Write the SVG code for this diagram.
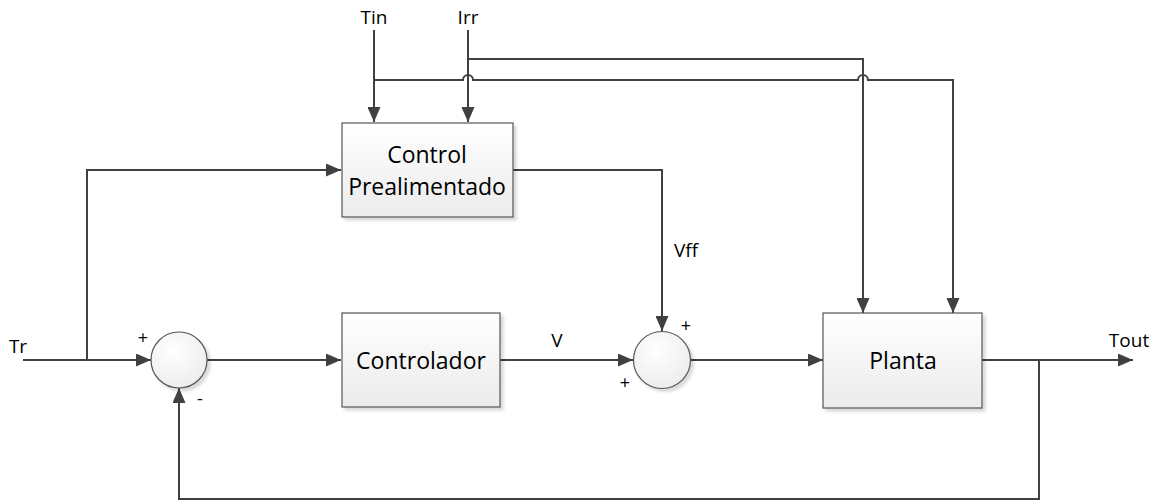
<svg xmlns="http://www.w3.org/2000/svg" width="1156" height="504" viewBox="0 0 1156 504">
<style>
.ln{fill:none;stroke:#404040;stroke-width:2}
.box{stroke:#555;stroke-width:1.2;fill:url(#gb);filter:url(#sh)}
.sum{stroke:#555;stroke-width:1.2;fill:url(#gc);filter:url(#sh)}
.t{font-family:"Open Sans","Liberation Sans",sans-serif;fill:#000;text-anchor:middle}
.bt{font-size:23px}
.lb{font-size:19px}
.sg{font-size:18px}
</style>
<defs>
<linearGradient id="gb" x1="0" y1="0" x2="0" y2="1"><stop offset="0" stop-color="#ffffff"/><stop offset="1" stop-color="#ebebeb"/></linearGradient>
<radialGradient id="gc" cx="0.4" cy="0.35" r="0.7"><stop offset="0" stop-color="#ffffff"/><stop offset="1" stop-color="#ececec"/></radialGradient>
<filter id="sh" x="-10%" y="-10%" width="130%" height="130%"><feDropShadow dx="3" dy="3" stdDeviation="1.5" flood-color="#000" flood-opacity="0.15"/></filter>
<marker id="ar" markerUnits="userSpaceOnUse" markerWidth="15" markerHeight="13" refX="15" refY="6.5" orient="auto"><path d="M0,0 L15,6.5 L0,13 z" fill="#404040"/></marker>
</defs>
<g id="connectors">
<path class="ln" d="M374,30 V122" marker-end="url(#ar)"/>
<path class="ln" d="M468,30 V122" marker-end="url(#ar)"/>
<path class="ln" d="M374,80 H463 a5,5 0 0 1 10,0 H858 a5,5 0 0 1 10,0 H953 V313" marker-end="url(#ar)"/>
<path class="ln" d="M468,59 H863 V313" marker-end="url(#ar)"/>
<path class="ln" d="M23,360 H151" marker-end="url(#ar)"/>
<path class="ln" d="M87,360 V170 H341" marker-end="url(#ar)"/>
<path class="ln" d="M207,360 H341" marker-end="url(#ar)"/>
<path class="ln" d="M500,360 H633" marker-end="url(#ar)"/>
<path class="ln" d="M513,170 H662 V331" marker-end="url(#ar)"/>
<path class="ln" d="M690,360 H823" marker-end="url(#ar)"/>
<path class="ln" d="M982,360 H1133" marker-end="url(#ar)"/>
<path class="ln" d="M1039,360 V499 H179 V388" marker-end="url(#ar)"/>
</g>
<g id="labels">
<text class="t lb" x="374" y="24">Tin</text>
<text class="t lb" x="468" y="24">Irr</text>
<text class="t lb" x="18" y="353">Tr</text>
<text class="t lb" x="1129" y="347">Tout</text>
<text class="t lb" x="557" y="347">V</text>
<text class="t lb" x="686" y="257">Vff</text>
</g>
<g id="ctrl-ff">
<rect class="box" x="342" y="123" width="171" height="94"/>
<text class="t bt" x="427" y="163">Control</text>
<text class="t bt" x="427" y="195">Prealimentado</text>
</g>
<g id="sum1">
<circle class="sum" cx="179" cy="360" r="28"/>
<text class="t sg" x="143" y="344">+</text>
<text class="t sg" x="200" y="405">-</text>
</g>
<g id="controlador">
<rect class="box" x="342" y="313" width="158" height="94"/>
<text class="t bt" x="421" y="369">Controlador</text>
</g>
<g id="sum2">
<circle class="sum" cx="662" cy="360" r="28.5"/>
<text class="t sg" x="686" y="332">+</text>
<text class="t sg" x="625" y="389">+</text>
</g>
<g id="planta">
<rect class="box" x="823" y="313" width="159" height="95"/>
<text class="t bt" x="903" y="369">Planta</text>
</g>
</svg>
